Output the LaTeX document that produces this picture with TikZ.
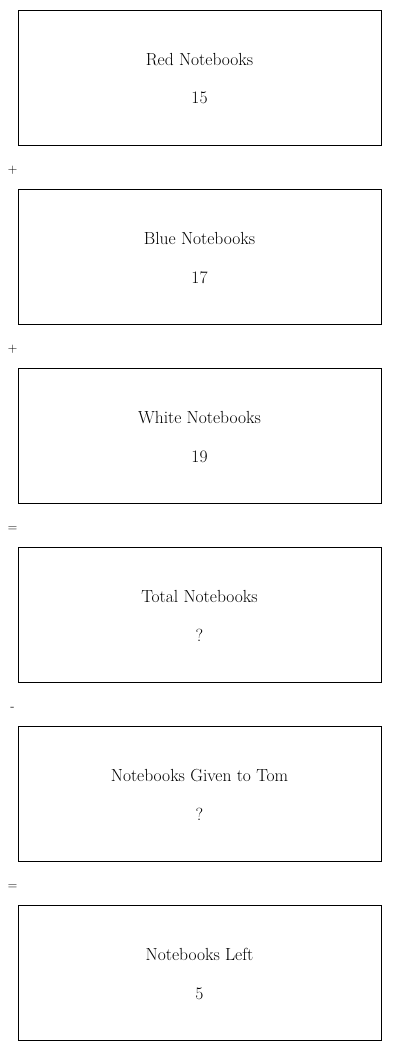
\documentclass[tikz,border=0pt]{standalone}
\usepackage{tikz}
\begin{document}
\begin{tikzpicture}[x=1pt,y=-1pt,line cap=round]
  \tikzset{
    stepbox/.style={draw,line width=0.9pt,minimum width=363pt,minimum height=135pt,inner sep=0pt},
    lbl/.style={font=\fontsize{17.5}{21}\selectfont,inner sep=0pt,anchor=base},
    opsign/.style={font=\fontsize{13}{16}\selectfont,inner sep=0pt,anchor=base}
  }
  \useasboundingbox (0,0) rectangle (400,1051);
  % the six boxes
  \foreach \i/\lab/\val in {0/Red Notebooks/15,1/Blue Notebooks/17,2/White Notebooks/19,
                            3/Total Notebooks/?,4/Notebooks Given to Tom/?,5/Notebooks Left/5}{
    \pgfmathsetmacro{\ytop}{10+179*\i}
    \node[stepbox] (box\i) at (199.5,\ytop+67.5) {};
    \node[lbl] (title\i) at (199.5,\ytop+55.5) {\lab};
    \node[lbl] (val\i) at (199.5,\ytop+94) {\val};
  }
  % signs between the boxes
  \foreach \i/\op in {0/+,1/+,2/=,3/-,4/=}{
    \pgfmathsetmacro{\ysign}{173.5+179*\i}
    \node[opsign] (op\i) at (12.5,\ysign) {\op};
  }
\end{tikzpicture}
\end{document}
